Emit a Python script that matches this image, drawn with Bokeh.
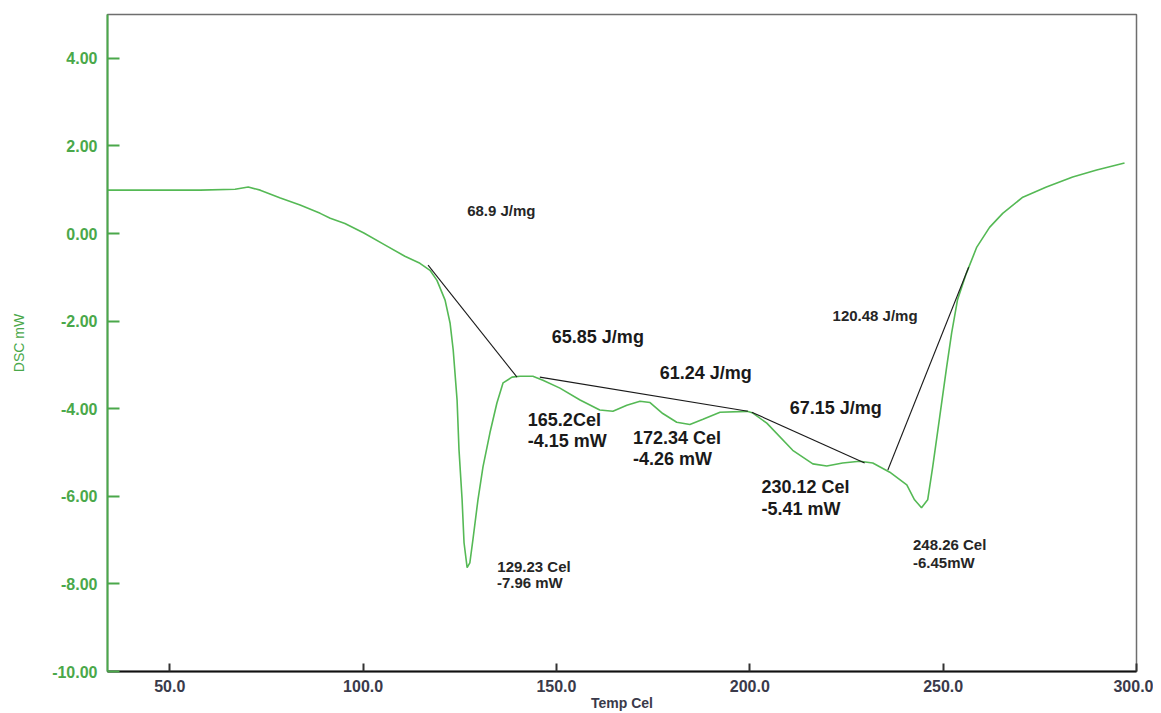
from bokeh.plotting import figure
from bokeh.models import FixedTicker, PrintfTickFormatter, ColumnDataSource, Range1d
from bokeh.core.properties import value
from bokeh.embed import file_html
from bokeh.resources import INLINE

# DSC curve (Temp Cel, DSC mW)
temp = [34.0, 45.0, 57.9, 66.9, 70.3, 73.4, 78.6, 83.7, 88.9, 91.5, 95.3, 100.2, 105.6,
        110.8, 114.7, 117.3, 119.1, 121.2, 122.5, 123.3, 124.3, 124.8, 125.6, 126.1,
        126.9, 127.6, 128.4, 129.7, 131.0, 132.8, 134.6, 136.2, 138.5, 140.6, 143.9,
        146.5, 150.9, 156.1, 161.2, 164.6, 168.2, 171.6, 174.2, 177.5, 181.1, 184.5,
        187.9, 192.3, 199.3, 200.8, 204.4, 211.1, 216.3, 219.9, 224.0, 228.4, 231.8,
        236.2, 240.6, 242.6, 244.4, 246.0, 247.3, 249.1, 250.9, 252.2, 253.7, 256.0,
        258.7, 262.0, 265.4, 270.6, 276.7, 283.5, 289.7, 296.9]
dsc = [0.99, 0.99, 0.99, 1.01, 1.06, 0.99, 0.81, 0.65, 0.46, 0.35, 0.23, 0.01, -0.26,
       -0.52, -0.68, -0.84, -1.07, -1.52, -2.05, -2.66, -3.80, -4.94, -6.08, -7.06,
       -7.63, -7.52, -6.99, -6.08, -5.33, -4.55, -3.87, -3.41, -3.28, -3.26, -3.26,
       -3.35, -3.53, -3.80, -4.03, -4.06, -3.92, -3.83, -3.86, -4.11, -4.31, -4.36,
       -4.24, -4.08, -4.06, -4.10, -4.33, -4.95, -5.26, -5.31, -5.24, -5.20, -5.24,
       -5.45, -5.74, -6.08, -6.26, -6.08, -5.33, -4.19, -3.05, -2.27, -1.52, -0.91,
       -0.31, 0.14, 0.46, 0.83, 1.06, 1.29, 1.45, 1.61]

# integration baselines
base_x0 = [116.8, 145.7, 200.5, 235.7]
base_y0 = [-0.72, -3.28, -4.08, -5.40]
base_x1 = [139.8, 199.5, 229.7, 256.6]
base_y1 = [-3.28, -4.06, -5.24, -0.77]

# annotations
big_texts = ["65.85 J/mg", "61.24 J/mg", "67.15 J/mg", "165.2Cel", "-4.15 mW",
             "172.34 Cel", "-4.26 mW", "230.12 Cel", "-5.41 mW"]
big_x = [148.8, 176.7, 210.3, 142.6, 142.6, 169.8, 169.8, 203.0, 203.0]
big_y = [-2.36, -3.18, -3.99, -4.26, -4.73, -4.67, -5.15, -5.78, -6.29]

small_texts = ["68.9 J/mg", "120.48 J/mg", "129.23 Cel", "-7.96 mW", "248.26 Cel", "-6.45mW"]
small_x = [126.9, 221.4, 134.7, 134.6, 242.2, 242.2]
small_y = [0.53, -1.88, -7.60, -7.97, -7.09, -7.51]

x_ticks = [50, 100, 150, 200, 250, 300]
y_ticks = [-10, -8, -6, -4, -2, 0, 2, 4]
x_title = "Temp Cel"
y_title = "DSC mW"

GREEN_AX = "#4aa84a"
GREEN_LN = "#55b955"
FONT = "Liberation Sans"

p = figure(width=1153, height=713, output_backend="svg", toolbar_location=None,
           x_range=Range1d(33.9, 300), y_range=Range1d(-10, 5.0),
           min_border_left=107, min_border_right=17, min_border_top=14, min_border_bottom=30)
p.background_fill_color = "white"
p.border_fill_color = "white"
p.outline_line_color = "#6e6e6e"
p.outline_line_width = 1.5
p.xgrid.visible = False
p.ygrid.visible = False

p.line(temp, dsc, line_color=GREEN_LN, line_width=1.6)
p.segment(x0=base_x0, y0=base_y0, x1=base_x1, y1=base_y1, line_color="#1a1a1a", line_width=1.1)

src_b = ColumnDataSource(dict(x=big_x, y=big_y, t=big_texts))
p.text(x="x", y="y", text="t", source=src_b, text_font=value(FONT), text_font_style="bold",
       text_font_size="18px", text_color="#1a1a1a", text_baseline="middle", text_align="left")
src_s = ColumnDataSource(dict(x=small_x, y=small_y, t=small_texts))
p.text(x="x", y="y", text="t", source=src_s, text_font=value(FONT), text_font_style="bold",
       text_font_size="15px", text_color="#262626", text_baseline="middle", text_align="left")

# y axis
ya = p.yaxis[0]
ya.ticker = FixedTicker(ticks=y_ticks)
ya.formatter = PrintfTickFormatter(format="%.2f")
ya.axis_line_color = GREEN_AX
ya.axis_line_width = 2
ya.major_tick_line_color = GREEN_AX
ya.major_tick_line_width = 2
ya.major_tick_in = 12
ya.major_tick_out = 0
ya.minor_tick_line_color = None
ya.major_label_text_color = GREEN_AX
ya.major_label_text_font = FONT
ya.major_label_text_font_style = "bold"
ya.major_label_text_font_size = "16px"
ya.major_label_standoff = 10
ya.axis_label = y_title
ya.axis_label_text_color = GREEN_AX
ya.axis_label_text_font = FONT
ya.axis_label_text_font_style = "normal"
ya.axis_label_text_font_size = "14px"
ya.axis_label_standoff = 22

# x axis
xa = p.xaxis[0]
xa.ticker = FixedTicker(ticks=x_ticks)
xa.formatter = PrintfTickFormatter(format="%.1f")
xa.axis_line_color = "#111111"
xa.axis_line_width = 2
xa.major_tick_line_color = "#333333"
xa.major_tick_line_width = 2
xa.major_tick_in = 8
xa.major_tick_out = 0
xa.minor_tick_line_color = None
xa.major_label_text_color = "#3a3a4a"
xa.major_label_text_font = FONT
xa.major_label_text_font_style = "bold"
xa.major_label_text_font_size = "16px"
xa.major_label_standoff = 8
xa.axis_label = x_title
xa.axis_label_text_color = "#3a3a4a"
xa.axis_label_text_font = FONT
xa.axis_label_text_font_style = "bold"
xa.axis_label_text_font_size = "14px"
xa.axis_label_standoff = 0

open("out.html", "w").write(file_html(p, INLINE))
